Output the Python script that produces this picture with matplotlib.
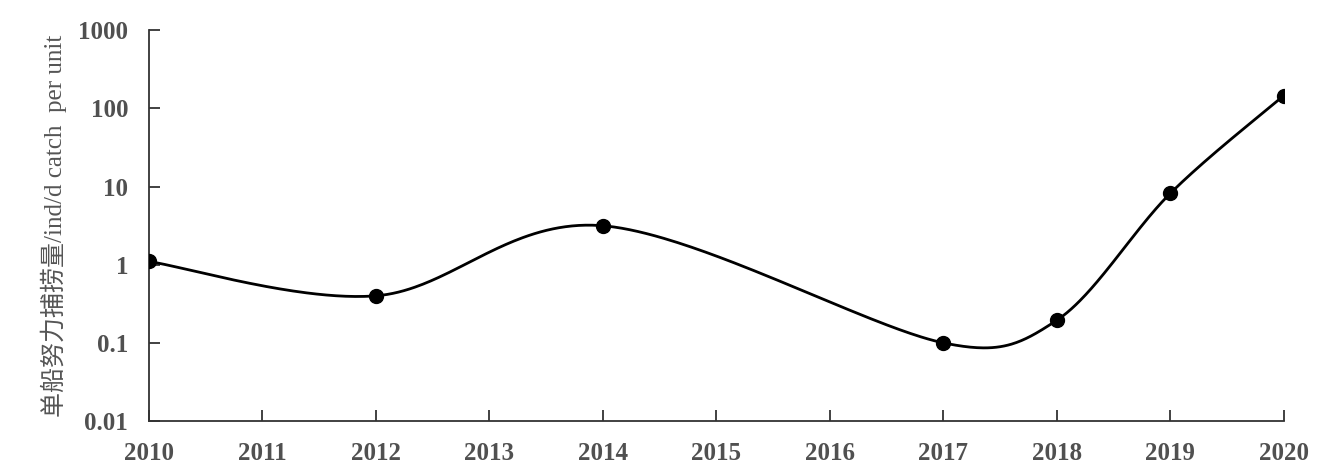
import numpy as np
import matplotlib
matplotlib.use("Agg")
import matplotlib.pyplot as plt

years = [2010, 2012, 2014, 2017, 2018, 2019, 2020]
cpue = [1.1, 0.40, 3.15, 0.10, 0.195, 8.2, 146]
xticks = list(range(2010, 2021))
yticks = [0.01, 0.1, 1, 10, 100, 1000]
ytick_labels = ["0.01", "0.1", "1", "10", "100", "1000"]
ylabel = "单船努力捕捞量/ind/d catch  per unit"

def smooth(xs, ys, n=80):
    # Excel-style smoothed line: cubic Bezier, tangents limited by segment length
    P = np.column_stack([xs, ys]).astype(float)
    pts = []
    for i in range(len(P) - 1):
        p0 = P[i - 1] if i > 0 else P[i]
        p1, p2 = P[i], P[i + 1]
        p3 = P[i + 2] if i + 2 < len(P) else P[i + 1]
        d12 = np.hypot(*(p2 - p1))
        d02 = np.hypot(*(p2 - p0))
        d13 = np.hypot(*(p3 - p1))
        f1 = 1 / 6.0
        if d02 / 6.0 > d12 / 2.0:
            f1 = d12 / (2.0 * d02)
        f2 = 1 / 6.0
        if d13 / 6.0 > d12 / 2.0:
            f2 = d12 / (2.0 * d13)
        c1 = p1 + (p2 - p0) * f1
        c2 = p2 - (p3 - p1) * f2
        t = np.linspace(0, 1, n)[:, None]
        seg = ((1 - t) ** 3) * p1 + 3 * ((1 - t) ** 2) * t * c1 + 3 * (1 - t) * t ** 2 * c2 + t ** 3 * p2
        pts.append(seg if i == 0 else seg[1:])
    return np.vstack(pts)

# work in approximate screen proportions (px per year vs px per decade)
xs = np.array(years, float)
ly = np.log10(cpue)
xscale = 113.5 / 78.0
curve = smooth(xs * xscale, ly)
cx = curve[:, 0] / xscale
cy = 10 ** curve[:, 1]

fig = plt.figure(figsize=(13.36, 4.72), dpi=100)
ax = fig.add_axes([0.1115, 0.108, 0.8495, 0.828])
ax.plot(cx, cy, color="black", lw=2.0, zorder=2)
ax.plot(years, cpue, "o", color="black", ms=10, zorder=3)
ax.set_yscale("log")
ax.set_ylim(0.01, 1000)
ax.set_xlim(2010, 2020)
ax.set_xticks(xticks)
ax.set_xticklabels([str(v) for v in xticks])
ax.set_yticks(yticks)
ax.set_yticklabels(ytick_labels)
ax.yaxis.set_minor_locator(matplotlib.ticker.NullLocator())
for s in ["top", "right"]:
    ax.spines[s].set_visible(False)
for s in ["left", "bottom"]:
    ax.spines[s].set_color("#333333")
    ax.spines[s].set_linewidth(1.3)
ax.tick_params(direction="in", length=8, width=1.3, color="#333333",
               labelcolor="#505050", labelsize=18)
ax.tick_params(axis="x", pad=15)
ax.tick_params(axis="y", pad=15)
for lab in ax.get_xticklabels() + ax.get_yticklabels():
    lab.set_fontfamily("Liberation Serif")
    lab.set_fontweight("bold")
ax.set_ylabel(ylabel, family=["Liberation Serif", "Noto Sans CJK SC"], fontsize=18,
              color="#555555")
ax.yaxis.set_label_coords(-0.0725, 0.5)
fig.savefig("out.png", dpi=100)
